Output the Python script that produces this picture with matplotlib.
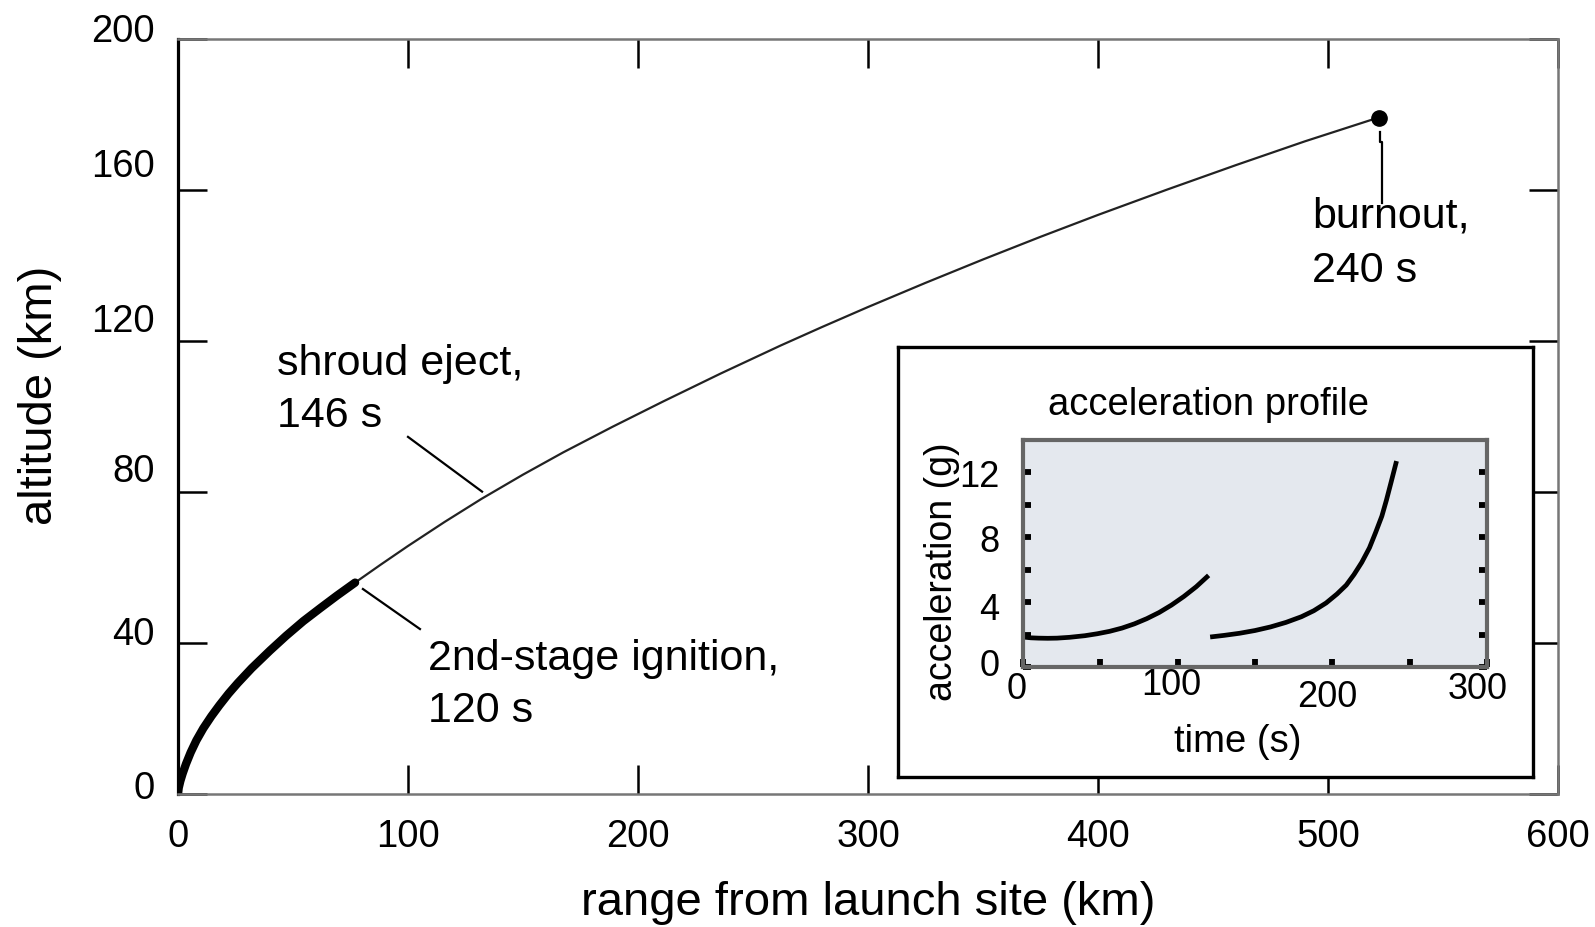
import matplotlib
matplotlib.use("Agg")
import matplotlib.pyplot as plt
import matplotlib.transforms as mtransforms

plt.rcParams['font.family'] = ['Liberation Sans', 'DejaVu Sans']

# ---------------- data ----------------
stage1_range = [0, 0.3, 1, 2, 3.5, 5.5, 8, 11, 14.5, 18, 22, 26, 32, 40, 47, 54.5, 62, 69, 77]
stage1_alt = [0, 1.6, 3.4, 5.4, 8.0, 11.0, 14.2, 17.4, 20.6, 23.5, 26.6, 29.4, 33.3,
              38.0, 41.9, 45.8, 49.3, 52.5, 56.0]
stage2_range = [77, 88, 100, 116, 132, 150, 167.5, 189, 211, 236, 262, 280, 300, 325,
                350, 375, 400, 430, 460, 490, 522]
stage2_alt = [56.0, 60.7, 65.7, 72.1, 78.2, 84.6, 90.5, 97.3, 104.0, 111.4, 118.8, 123.7,
              129.0, 135.4, 141.6, 147.6, 153.4, 160.1, 166.6, 172.9, 179.2]
burnout_point = (522, 179.2)

x_ticks = [0, 100, 200, 300, 400, 500, 600]
y_ticks = [0, 40, 80, 120, 160, 200]
y_label_offsets_px = [10, 13, 25, 24, 28, 12]   # labels sit above their ticks, as in the reference

t_stage1 = [0, 5, 10, 16, 22, 30, 40, 48, 56, 64, 72, 80, 88, 96, 104, 112, 120]
acc_stage1 = [1.85, 1.8, 1.78, 1.77, 1.78, 1.83, 1.93, 2.05, 2.2, 2.4, 2.66, 2.98, 3.36,
              3.82, 4.35, 4.95, 5.65]
t_stage2 = [121, 130, 140, 150, 160, 170, 180, 188, 196, 203, 209, 214, 219, 224, 228,
            232, 235, 238, 241.5]
acc_stage2 = [1.85, 1.95, 2.08, 2.25, 2.47, 2.75, 3.1, 3.47, 3.95, 4.5, 5.05, 5.7, 6.45,
              7.35, 8.3, 9.3, 10.3, 11.4, 12.7]

inset_x_ticks = [0, 100, 200, 300]
inset_x_minor = [50, 150, 250]
inset_y_ticks = [0, 4, 8, 12]
inset_y_minor = [2, 6, 10]

# ---------------- figure ----------------
W, H = 1595, 928
fig = plt.figure(figsize=(W / 100, H / 100), dpi=100)
fig.patch.set_facecolor('white')


def px_rect(x0, y0, x1, y1):
    return [x0 / W, (H - y1) / H, (x1 - x0) / W, (y1 - y0) / H]


ax = fig.add_axes(px_rect(178, 40, 1558, 795))
ax.set_xlim(0, 600)
ax.set_ylim(0, 200)

ax.plot(stage2_range, stage2_alt, color='#222222', lw=1.6,
        solid_capstyle='round', solid_joinstyle='round')
ax.plot(stage1_range, stage1_alt, color='black', lw=6,
        solid_capstyle='round', solid_joinstyle='round')
ax.plot([burnout_point[0]], [burnout_point[1]], 'o', color='black', ms=11)

# spines
for side in ['top', 'bottom', 'right']:
    ax.spines[side].set_color('#777777')
    ax.spines[side].set_linewidth(1.8)
ax.spines['left'].set_color('black')
ax.spines['left'].set_linewidth(2.3)

ax.set_xticks(x_ticks)
ax.set_xticklabels([str(v) for v in x_ticks])
ax.set_yticks(y_ticks)
ax.set_yticklabels([str(v) for v in y_ticks])
ax.tick_params(axis='both', direction='in', length=21, width=1.8, color='black',
               top=True, right=True, labelsize=27.5)
ax.tick_params(axis='x', pad=17)
ax.tick_params(axis='y', pad=17)

for lbl, dy in zip(ax.get_yticklabels(), y_label_offsets_px):
    lbl.set_transform(lbl.get_transform() +
                      mtransforms.ScaledTranslation(0, dy / 100, fig.dpi_scale_trans))

# axis labels
fig.text(868 / W, (H - 915) / H, 'range from launch site (km)', fontsize=34,
         ha='center', va='baseline')
fig.text(40 / W, (H - 395) / H, 'altitude (km)', fontsize=34, rotation=90,
         ha='center', va='center')

# annotations
ann_fs = 31
ax.plot([100, 132.2], [94.6, 80.1], color='black', lw=1.6)
ax.text(43, 111.3, 'shroud eject,', fontsize=ann_fs, ha='left', va='baseline')
ax.text(43, 97.5, '146 s', fontsize=ann_fs, ha='left', va='baseline')

ax.plot([80.4, 105.2], [54.3, 43.7], color='black', lw=1.6)
ax.text(108.7, 33.1, '2nd-stage ignition,', fontsize=ann_fs, ha='left', va='baseline')
ax.text(108.7, 19.3, '120 s', fontsize=ann_fs, ha='left', va='baseline')

ax.plot([522.6, 522.6, 523.3, 523.3], [175.3, 172.6, 172.6, 156.5], color='black', lw=1.6)
ax.text(493, 150.2, 'burnout,', fontsize=ann_fs, ha='left', va='baseline')
ax.text(493, 135.9, '240 s', fontsize=ann_fs, ha='left', va='baseline')

# ---------------- inset box ----------------
box = fig.add_axes(px_rect(898, 348, 1533, 778))
box.set_facecolor('white')
box.set_xticks([])
box.set_yticks([])
for s in box.spines.values():
    s.set_color('black')
    s.set_linewidth(2.4)

ins = fig.add_axes(px_rect(1023, 441, 1487, 668))
ins.set_facecolor('#e4e8ee')
ins.set_xlim(0, 300)
ins.set_ylim(0, 14)
ins.plot(t_stage1, acc_stage1, color='black', lw=3.4,
         solid_capstyle='butt', solid_joinstyle='round')
ins.plot(t_stage2, acc_stage2, color='black', lw=3.4,
         solid_capstyle='butt', solid_joinstyle='round')
for s in ins.spines.values():
    s.set_color('#666666')
    s.set_linewidth(3)

ins.set_xticks(inset_x_ticks)
ins.set_xticklabels([str(v) for v in inset_x_ticks])
ins.set_xticks(inset_x_minor, minor=True)
ins.set_yticks(inset_y_ticks)
ins.set_yticklabels([str(v) for v in inset_y_ticks])
ins.set_yticks(inset_y_minor, minor=True)
ins.tick_params(axis='both', which='both', direction='in', length=6, width=4.2,
                color='black', right=True, top=False, labelsize=26)
ins.tick_params(axis='x', pad=3)
ins.tick_params(axis='y', pad=17)

inset_x_label_offsets = [(-6, 0), (-6, 4), (-5, -8), (-9, 0)]
for lbl, (dx, dy) in zip(ins.get_xticklabels(), inset_x_label_offsets):
    lbl.set_transform(lbl.get_transform() +
                      mtransforms.ScaledTranslation(dx / 100, dy / 100, fig.dpi_scale_trans))
inset_y_label_offsets = [6, -3, 0, 0]
for lbl, dy in zip(ins.get_yticklabels(), inset_y_label_offsets):
    lbl.set_transform(lbl.get_transform() +
                      mtransforms.ScaledTranslation(0, dy / 100, fig.dpi_scale_trans))

fig.text(1209 / W, (H - 415) / H, 'acceleration profile', fontsize=27.5,
         ha='center', va='baseline')
fig.text(1238 / W, (H - 752) / H, 'time (s)', fontsize=27.5, ha='center', va='baseline')
fig.text(942 / W, (H - 572) / H, 'acceleration (g)', fontsize=27, rotation=90,
         ha='center', va='center')

fig.savefig('out.png', dpi=100, facecolor='white')
